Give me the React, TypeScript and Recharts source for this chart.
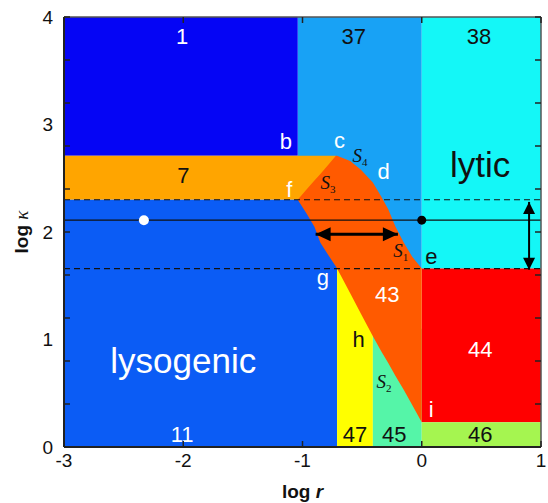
import React from "react";
import { Area, ComposedChart, Line, Scatter, XAxis, YAxis } from "recharts";

const SANS = "'Liberation Sans', Arial, Helvetica, sans-serif";
const SERIF = "'Liberation Serif', 'Times New Roman', serif";

const X_TICKS = [-3, -2, -1, 0, 1];
const Y_TICKS = [0, 0.4, 0.8, 1, 1.2, 1.6, 2, 2.4, 2.8, 3, 3.2, 3.6, 4];

// rectangular phases: [x from, x to, log kappa low, log kappa high]
const region1 = [-3, -1.04, 2.71, 4];
const region37 = [-1.04, 0, 1.66, 4];
const region7 = [-3, -0.72, 2.3, 2.71];
const region11 = [-3, -0.71, 0, 2.3];
const region47 = [-0.71, -0.41, 0, 1.66];
const region45 = [-0.41, 0, 0, 1.1];
const region38 = [0, 1, 1.66, 4];
const region44 = [0, 1, 0.23, 1.66];
const region46 = [0, 1, 0, 0.23];

// region 43, bounded by f-c, S4, S1 above and S3, S2 below
const r43X = [-1.04, -0.97, -0.9, -0.85, -0.78, -0.72, -0.71, -0.6, -0.51, -0.41, -0.34, -0.28, -0.22, -0.15, -0.08, 0];
const r43High = [2.3, 2.39, 2.48, 2.54, 2.63, 2.71, 2.71, 2.66, 2.58, 2.46, 2.33, 2.21, 2.05, 1.9, 1.77, 1.66];
const r43Low = [2.3, 2.18, 2.05, 1.9, 1.78, 1.68, 1.66, 1.43, 1.24, 1.03, 0.89, 0.78, 0.66, 0.53, 0.39, 0.23];

const dashedLevels = [2.3, 1.66];
const solidLevel = 2.11;
const whiteDot = [{ x: -2.33, y: 2.11 }];
const blackDot = [{ x: 0, y: 2.11 }];

const hArrow = { from: -0.89, to: -0.2, y: 1.98 };
const vArrow = { x: 0.9, from: 2.28, to: 1.65 };

const whiteMarks = [
  { x: -2.01, y: 3.75, t: "1" },
  { x: -1.14, y: 2.77, t: "b" },
  { x: -0.69, y: 2.78, t: "c" },
  { x: -0.32, y: 2.49, t: "d" },
  { x: -1.11, y: 2.33, t: "f" },
  { x: -0.83, y: 1.51, t: "g" },
  { x: -0.29, y: 1.35, t: "43" },
  { x: 0.49, y: 0.84, t: "44" },
  { x: 0.08, y: 0.28, t: "i" },
  { x: -2.01, y: 0.05, t: "11" },
];
const blackMarks = [
  { x: -0.57, y: 3.75, t: "37" },
  { x: 0.48, y: 3.75, t: "38" },
  { x: -2.0, y: 2.46, t: "7" },
  { x: 0.08, y: 1.7, t: "e" },
  { x: -0.53, y: 0.93, t: "h" },
  { x: -0.56, y: 0.05, t: "47" },
  { x: -0.23, y: 0.05, t: "45" },
  { x: 0.49, y: 0.05, t: "46" },
];
const whiteWords = [{ x: -2.0, y: 0.69, t: "lysogenic" }];
const blackWords = [{ x: 0.49, y: 2.51, t: "lytic" }];
const sLabels = [
  { x: -0.58, y: 2.65, t: "4" },
  { x: -0.85, y: 2.4, t: "3" },
  { x: -0.24, y: 1.77, t: "1" },
  { x: -0.38, y: 0.55, t: "2" },
];

const rect = (r: number[]) => [
  { x: r[0], y: [r[2], r[3]] },
  { x: r[1], y: [r[2], r[3]] },
];
const region43 = r43X.map((x, i) => ({ x, y: [r43Low[i], r43High[i]] }));

const isMinor = (v: number) => Math.abs(v / 0.4 - Math.round(v / 0.4)) < 1e-6;

const BottomTick = (p: any) => (
  <g>
    <line x1={p.x} x2={p.x} y1={p.y} y2={p.y - 6} stroke="#222" strokeWidth={1.5} />
    <text x={p.x} y={p.y + 20} textAnchor="middle" fontSize={19} fontFamily={SANS} fill="#111">
      {p.payload.value}
    </text>
  </g>
);
const TopTick = (p: any) => (
  <line x1={p.x} x2={p.x} y1={p.y} y2={p.y + 6} stroke="#222" strokeWidth={1.5} />
);
const LeftTick = (p: any) => {
  const v = p.payload.value;
  return (
    <g>
      {isMinor(v) ? <line x1={p.x} x2={p.x + 6} y1={p.y} y2={p.y} stroke="#222" strokeWidth={1.5} /> : null}
      {Number.isInteger(v) ? (
        <text x={p.x - 11} y={p.y} dy="0.36em" textAnchor="end" fontSize={19} fontFamily={SANS} fill="#111">
          {v}
        </text>
      ) : null}
    </g>
  );
};
const RightTick = (p: any) =>
  isMinor(p.payload.value) ? (
    <line x1={p.x} x2={p.x - 6} y1={p.y} y2={p.y} stroke="#222" strokeWidth={1.5} />
  ) : (
    <g />
  );

const textShape = (fill: string, size: number) => (p: any) => (
  <text x={p.cx} y={p.cy} fill={fill} fontSize={size} fontFamily={SANS} textAnchor="middle">
    {p.payload.t}
  </text>
);
const sShape = (p: any) => (
  <text x={p.cx} y={p.cy} fill="#111" fontFamily={SERIF} fontStyle="italic" fontSize={19}>
    S
    <tspan fontSize={11} fontStyle="normal" dy={4}>
      {p.payload.t}
    </tspan>
  </text>
);
const dotShape = (fill: string, r: number) => (p: any) => <circle cx={p.cx} cy={p.cy} r={r} fill={fill} />;

const head = (dir: string, len: number, half: number) => (p: any) => {
  const { cx, cy } = p;
  let pts = "";
  if (dir === "left") pts = `${cx},${cy} ${cx + len},${cy - half} ${cx + len},${cy + half}`;
  if (dir === "right") pts = `${cx},${cy} ${cx - len},${cy - half} ${cx - len},${cy + half}`;
  if (dir === "up") pts = `${cx},${cy} ${cx - half},${cy + len} ${cx + half},${cy + len}`;
  if (dir === "down") pts = `${cx},${cy} ${cx - half},${cy - len} ${cx + half},${cy - len}`;
  return <polygon points={pts} fill="#000" />;
};

const fills: [number[], string][] = [
  [region37, "#18a2f5"],
  [region1, "#0505f5"],
  [region7, "#ffa500"],
  [region11, "#0b5cf5"],
  [region47, "#ffff00"],
  [region45, "#55f5a8"],
  [region38, "#14f7f7"],
  [region44, "#ff0000"],
  [region46, "#a5f550"],
];

export default function App() {
  return (
    <div style={{ position: "absolute", left: 0, top: 0, background: "#fff" }}>
      <ComposedChart width={548} height={503} margin={{ top: 0, right: 0, bottom: 0, left: 0 }}>
        <XAxis
          dataKey="x"
          type="number"
          domain={[-3, 1]}
          ticks={X_TICKS}
          interval={0}
          allowDataOverflow
          height={56}
          tickSize={0}
          tickMargin={0}
          tick={BottomTick}
          axisLine={{ stroke: "#222", strokeWidth: 2 }}
          label={{
            content: (lp: any) => {
              const vb = lp.viewBox;
              return (
                <text x={vb.x + vb.width / 2} y={vb.y + 51} textAnchor="middle" fontSize={19} fontWeight="bold" fontFamily={SANS} fill="#111">
                  log <tspan fontStyle="italic">r</tspan>
                </text>
              );
            },
          }}
        />
        <XAxis
          xAxisId="t"
          orientation="top"
          dataKey="x"
          type="number"
          domain={[-3, 1]}
          ticks={X_TICKS}
          interval={0}
          allowDataOverflow
          height={17}
          tickSize={0}
          tickMargin={0}
          tick={TopTick}
          axisLine={{ stroke: "#555", strokeWidth: 1.5 }}
        />
        <YAxis
          type="number"
          domain={[0, 4]}
          ticks={Y_TICKS}
          interval={0}
          allowDataOverflow
          width={64}
          tickSize={0}
          tickMargin={0}
          tick={LeftTick}
          axisLine={{ stroke: "#222", strokeWidth: 2 }}
          label={{
            content: (lp: any) => {
              const vb = lp.viewBox;
              const cy = vb.y + vb.height / 2;
              return (
                <text x={21} y={cy} transform={`rotate(-90 21 ${cy})`} dy="0.35em" textAnchor="middle" fontSize={19} fontFamily={SANS} fill="#111">
                  <tspan fontWeight="bold">log </tspan>
                  <tspan fontFamily={SERIF} fontStyle="italic">κ</tspan>
                </text>
              );
            },
          }}
        />
        <YAxis
          yAxisId="r"
          orientation="right"
          type="number"
          domain={[0, 4]}
          ticks={Y_TICKS}
          interval={0}
          allowDataOverflow
          width={7}
          tickSize={0}
          tickMargin={0}
          tick={RightTick}
          axisLine={{ stroke: "#555", strokeWidth: 1.5 }}
        />

        {fills.map(([r, c], i) => (
          <Area
            key={"rect" + i}
            data={rect(r)}
            dataKey="y"
            type="linear"
            stroke="none"
            fill={c}
            fillOpacity={1}
            dot={false}
            activeDot={false}
            isAnimationActive={false}
          />
        ))}
        <Area
          data={region43}
          dataKey="y"
          type="linear"
          stroke="none"
          fill="#ff5a00"
          fillOpacity={1}
          dot={false}
          activeDot={false}
          isAnimationActive={false}
        />

        {dashedLevels.map((lv) => (
          <Line
            key={"d" + lv}
            data={[{ x: -3, y: lv }, { x: 1, y: lv }]}
            dataKey="y"
            type="linear"
            stroke="#111"
            strokeWidth={1.2}
            strokeDasharray="6 4"
            dot={false}
            activeDot={false}
            isAnimationActive={false}
          />
        ))}
        <Line
          data={[{ x: -3, y: solidLevel }, { x: 1, y: solidLevel }]}
          dataKey="y"
          type="linear"
          stroke="#111"
          strokeWidth={1.2}
          dot={false}
          activeDot={false}
          isAnimationActive={false}
        />
        <Line
          data={[{ x: hArrow.from, y: hArrow.y }, { x: hArrow.to, y: hArrow.y }]}
          dataKey="y"
          type="linear"
          stroke="#000"
          strokeWidth={3}
          dot={false}
          activeDot={false}
          isAnimationActive={false}
        />
        <Line
          data={[{ x: vArrow.x, y: vArrow.from }, { x: vArrow.x, y: vArrow.to }]}
          dataKey="y"
          type="linear"
          stroke="#000"
          strokeWidth={2}
          dot={false}
          activeDot={false}
          isAnimationActive={false}
        />

        <Scatter data={[{ x: hArrow.from, y: hArrow.y }]} dataKey="y" shape={head("left", 15, 7)} isAnimationActive={false} />
        <Scatter data={[{ x: hArrow.to, y: hArrow.y }]} dataKey="y" shape={head("right", 15, 7)} isAnimationActive={false} />
        <Scatter data={[{ x: vArrow.x, y: vArrow.from }]} dataKey="y" shape={head("up", 12, 6)} isAnimationActive={false} />
        <Scatter data={[{ x: vArrow.x, y: vArrow.to }]} dataKey="y" shape={head("down", 12, 6)} isAnimationActive={false} />
        <Scatter data={whiteDot} dataKey="y" shape={dotShape("#fff", 5)} isAnimationActive={false} />
        <Scatter data={blackDot} dataKey="y" shape={dotShape("#000", 4.5)} isAnimationActive={false} />

        <Scatter data={whiteMarks} dataKey="y" shape={textShape("#fff", 22)} isAnimationActive={false} />
        <Scatter data={blackMarks} dataKey="y" shape={textShape("#111", 22)} isAnimationActive={false} />
        <Scatter data={whiteWords} dataKey="y" shape={textShape("#fff", 35)} isAnimationActive={false} />
        <Scatter data={blackWords} dataKey="y" shape={textShape("#111", 35)} isAnimationActive={false} />
        <Scatter data={sLabels} dataKey="y" shape={sShape} isAnimationActive={false} />
      </ComposedChart>
    </div>
  );
}
